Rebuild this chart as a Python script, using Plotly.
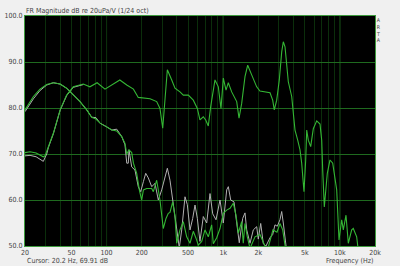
import plotly.graph_objects as go
import math

# ---- data ----
# broadband driver (green)
c_freq = [20, 22.1, 24.9, 28.7, 29.7, 31.7, 35.0, 40, 45.5, 51.9, 63.2, 72, 83, 97, 111, 130, 149, 170, 187, 207, 236,
          269, 287, 303, 317, 332, 362, 386, 426, 455, 502, 554, 600, 632, 675, 708, 745, 781, 850, 908, 957,
          1002, 1057, 1106, 1182, 1305, 1366, 1440, 1537, 1621, 1754, 1936, 2066, 2280, 2518, 2655, 2740, 2874,
          3025, 3172, 3274, 3386, 3502, 3614, 3864, 3988, 4124, 4350, 4552, 4707, 4925, 5093, 5196, 5362, 5622,
          5918, 6330, 6756, 6986, 7124, 7354, 7802, 8230, 8680, 9392, 9828, 10366, 10698, 11284, 11808, 12624,
          13028, 13932, 14382, 15472, 20000]
c_db = [70.3, 70.5, 70.2, 69.4, 69.6, 71.6, 74.5, 79.6, 82.8, 84.6, 85.2, 84.6, 85.5, 84.1, 85.0, 86.1, 85.0, 84.1, 82.3, 82.1, 82.0,
        81.4, 79.9, 75.6, 82.5, 88.3, 86.1, 84.3, 83.5, 82.8, 82.8, 81.7, 79.9, 77.4, 78.1, 77.4, 76.1, 80.3, 86.1, 84.6, 79.9,
        86.5, 83.9, 85.5, 83.5, 81.4, 77.8, 81.0, 86.8, 89.3, 87.2, 84.6, 83.7, 83.5, 83.3, 81.7, 79.6, 81.7,
        86.1, 92.2, 94.4, 93.3, 89.0, 85.7, 82.5, 78.8, 75.2, 73.0, 70.9, 68.0, 61.8, 68.7, 75.2, 73.0, 71.6,
        75.5, 77.2, 76.5, 73.0, 66.5, 58.5, 65.8, 68.7, 68.0, 62.2, 51.3, 55.7, 53.5, 56.7, 50.6, 53.5,
        53.8, 52.0, 49.0, 46.0, 42.0]

# low-frequency gray trace under the broadband driver
d_freq = [20, 22.1, 24.9, 27.5, 28.7, 30.7, 31.7, 35.0, 40, 45.5, 51.9, 63.2]
d_db = [69.6, 69.7, 69.4, 68.6, 68.4, 70.0, 71.4, 74.4, 79.5, 82.7, 84.5, 85.1]

# woofer, green
b_freq = [20, 23.6, 26.9, 30.7, 35.0, 40, 45.5, 51.9, 59.2, 67.6, 74.6, 81.2, 87.9, 100.3, 111, 122.2, 134.9, 143.9,
          149, 155.7, 164.3, 170, 181.3, 190.9, 200.1, 207, 220.8, 243.8, 251.7, 269, 287, 306.4, 323.3, 338.3,
          349.8, 369, 386, 399.5, 426, 455, 486.4, 519.2, 554, 584.4, 611.7, 654.2, 698, 745, 796.5, 822.3,
          879.4, 938.6, 1002, 1071, 1143, 1220, 1287, 1347, 1440, 1486, 1537, 1609, 1697, 1873, 2066, 2280,
          2420, 2670, 2890, 3066, 3236, 3386, 3592]
b_db = [79.6, 82.5, 84.1, 85.1, 85.5, 85.2, 84.3, 82.8, 81.4, 79.6, 78.0, 77.6, 76.7, 75.9, 75.2, 75.0, 73.8, 72.3,
        70.0, 70.9, 70.3, 68.0, 65.8, 62.2, 60.0, 62.2, 62.5, 62.5, 61.8, 64.3, 60.0, 53.8, 56.0, 57.1,
        57.3, 59.6, 56.4, 50.6, 53.5, 55.3, 52.0, 50.6, 53.2, 51.7, 50.2, 51.0, 53.5, 52.0, 54.6, 50.5,
        51.8, 53.8, 57.1, 57.8, 58.2, 59.3, 56.7, 52.8, 55.3, 50.6, 54.9, 52.0, 49.5, 52.0, 52.5, 50.0,
        49.5, 53.5, 53.0, 54.9, 53.5, 50.2, 47.0]

# woofer, gray
a_freq = [20, 23.6, 26.9, 30.7, 35.0, 40, 45.5, 51.9, 59.2, 67.6, 74.6, 81.2, 87.9, 100.3, 111, 122.2, 134.9, 143.9,
          149, 153.6, 155.7, 164.3, 175.3, 187.1, 196.2, 207, 216.6, 228, 243.8, 260.2, 277.8, 297, 317, 332,
          349.8, 373.4, 386, 399.5, 420.3, 440.6, 470.4, 492.3, 519.2, 547.6, 573, 600, 632, 675, 721.8, 770.5,
          812.7, 867.4, 938.6, 1002, 1071, 1106, 1159, 1237, 1305, 1373, 1469, 1537, 1590, 1697, 1811, 1936,
          1999, 2096, 2206, 2326, 2518, 2655, 2778, 2908, 3066, 3172, 3274, 3454, 3664]
a_db = [79.2, 82.0, 83.8, 85.0, 85.5, 85.2, 84.3, 82.8, 81.4, 79.6, 78.0, 77.9, 76.7, 75.9, 75.2, 75.4, 73.8, 72.0,
        68.0, 68.0, 70.9, 67.2, 66.5, 62.9, 61.8, 64.0, 65.8, 64.8, 62.9, 63.6, 60.0, 62.2, 65.1, 66.9,
        64.3, 59.3, 56.0, 53.0, 49.6, 53.5, 60.7, 59.0, 53.5, 56.0, 58.9, 56.0, 51.0, 56.4, 55.0, 61.4,
        57.0, 55.7, 60.0, 55.0, 62.2, 62.9, 60.0, 59.6, 55.0, 50.7, 56.0, 57.2, 53.5, 50.6, 53.5, 54.2,
        51.5, 54.9, 50.5, 50.0, 51.8, 52.5, 54.6, 54.3, 55.7, 57.5, 55.0, 50.0, 47.0]

x_tickvals = [20, 50, 100, 200, 500, 1000, 2000, 5000, 10000, 20000]
x_ticktext = ['20', '50', '100', '200', '500', '1k', '2k', '5k', '10k', '20k']
x_minor = [30, 40, 60, 70, 80, 90, 300, 400, 600, 700, 800, 900, 3000, 4000, 6000, 7000, 8000, 9000]
x_bright = [100, 1000, 10000]
y_tickvals = [50, 60, 70, 80, 90, 100]

GREEN = '#34b634'
GRAY = '#b0b0b0'
FONT = 'Liberation Sans Narrow, DejaVu Sans Condensed, Arial Narrow, Liberation Sans, sans-serif'
TXT = '#444444'
DARKGRID = '#0b2e0b'
BRIGHTGRID = '#1f6a1f'

fig = go.Figure()
fig.add_trace(go.Scatter(x=a_freq, y=a_db, mode='lines', line=dict(color=GRAY, width=1), hoverinfo='skip'))
fig.add_trace(go.Scatter(x=d_freq, y=d_db, mode='lines', line=dict(color=GRAY, width=1), hoverinfo='skip'))
fig.add_trace(go.Scatter(x=b_freq, y=b_db, mode='lines', line=dict(color=GREEN, width=1.1), hoverinfo='skip'))
fig.add_trace(go.Scatter(x=c_freq, y=c_db, mode='lines', line=dict(color=GREEN, width=1.1), hoverinfo='skip'))

for xv in x_bright:
    fig.add_shape(type='line', xref='x', yref='paper', x0=xv, x1=xv, y0=0, y1=1,
                  line=dict(color=BRIGHTGRID, width=1), layer='below')

fig.update_layout(
    width=400, height=266,
    margin=dict(l=25, r=25, t=16, b=20, autoexpand=False),
    paper_bgcolor='#f0f0f0', plot_bgcolor='#000000',
    showlegend=False,
    font=dict(family=FONT, size=7, color=TXT),
)
fig.update_xaxes(
    type='log', range=[math.log10(20), math.log10(20000)],
    tickmode='array', tickvals=x_tickvals, ticktext=x_ticktext,
    showgrid=True, gridcolor=DARKGRID, gridwidth=1,
    minor=dict(tickmode='array', tickvals=x_minor, showgrid=True, gridcolor=DARKGRID, gridwidth=1, ticks=''),
    ticks='', zeroline=False, automargin=False,
    showline=True, linecolor='#3d9a3d', linewidth=1, mirror=True,
    tickfont=dict(family=FONT, size=7, color=TXT),
)
fig.update_yaxes(
    range=[50, 100], tickmode='array', tickvals=y_tickvals,
    tickformat='.1f',
    showgrid=True, gridcolor=BRIGHTGRID, gridwidth=1,
    ticks='', zeroline=False, automargin=False,
    showline=True, linecolor='#3d9a3d', linewidth=1, mirror=True,
    tickfont=dict(family=FONT, size=7, color=TXT),
)

ann = [
    dict(text='FR Magnitude dB re 20uPa/V (1/24 oct)', x=0, y=1, xanchor='left', yanchor='bottom', xshift=0, yshift=0,
         size=7),
    dict(text='Cursor: 20.2 Hz, 69.91 dB', x=0, y=-0.065, xanchor='left', yanchor='middle', xshift=1, size=7),
    dict(text='Frequency (Hz)', x=1, y=-0.065, xanchor='right', yanchor='middle', xshift=-1, size=7),
    dict(text='A<br>R<br>T<br>A', x=1.0114, y=1.0, xanchor='center', yanchor='top', yshift=0, size=5.2),
]
for a in ann:
    sz = a.pop('size')
    fig.add_annotation(xref='paper', yref='paper', showarrow=False,
                       font=dict(family=FONT, size=sz, color=TXT), borderpad=0, **a)

fig.write_html('out.html')
